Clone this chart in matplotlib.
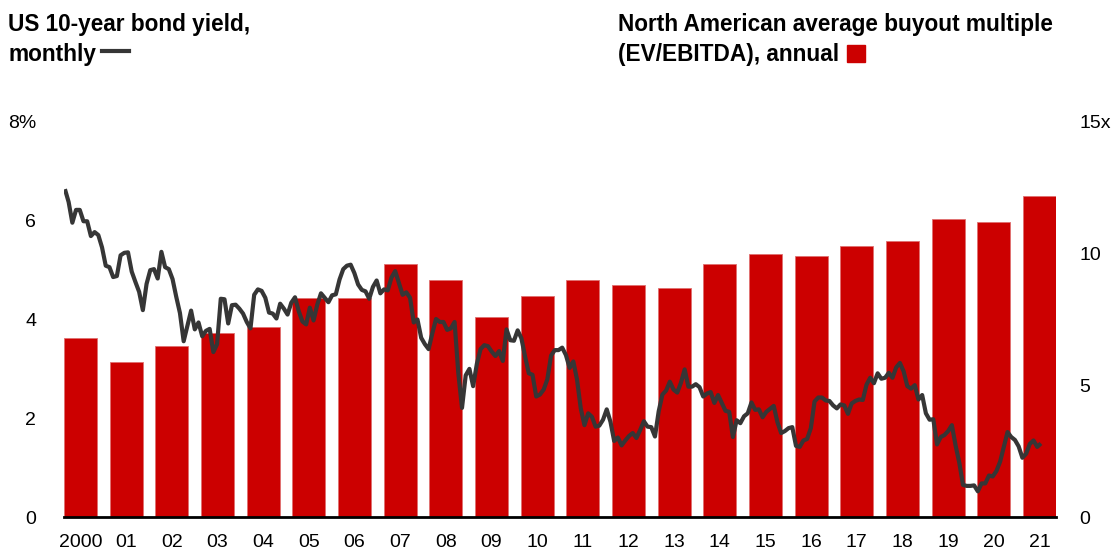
import matplotlib.pyplot as plt
import numpy as np
from matplotlib.lines import Line2D
from matplotlib.patches import Rectangle

plt.rcParams['font.family'] = ['Liberation Sans', 'DejaVu Sans']

# ---------------- DATA ----------------
years = list(range(2000, 2022))
year_labels = ["2000"] + [f"{y % 100:02d}" for y in years[1:]]

# North American average buyout multiple (EV/EBITDA), annual
buyout_multiple = [6.8, 5.9, 6.5, 7.0, 7.2, 8.3, 8.3, 9.6, 9.0, 7.6, 8.4,
                   9.0, 8.8, 8.7, 9.6, 10.0, 9.9, 10.3, 10.5, 11.3, 11.2, 12.2]

# US 10-year bond yield, monthly (month end), Jan 2000 - Dec 2021
bond_yield = [
    6.64, 6.38, 5.96, 6.22, 6.22, 5.99, 5.99, 5.69, 5.77, 5.71, 5.46, 5.09,  # 2000
    5.06, 4.86, 4.88, 5.30, 5.35, 5.36, 4.97, 4.76, 4.56, 4.19, 4.72, 5.00,  # 2001
    5.02, 4.83, 5.37, 5.06, 5.02, 4.82, 4.46, 4.13, 3.56, 3.87, 4.18, 3.80,  # 2002
    3.94, 3.66, 3.77, 3.81, 3.34, 3.50, 4.42, 4.41, 3.92, 4.29, 4.30, 4.22,  # 2003
    4.12, 3.95, 3.82, 4.50, 4.61, 4.58, 4.44, 4.14, 4.12, 4.02, 4.32, 4.22,  # 2004
    4.10, 4.34, 4.45, 4.17, 3.96, 3.90, 4.24, 3.98, 4.30, 4.53, 4.44, 4.35,  # 2005
    4.49, 4.51, 4.81, 5.02, 5.09, 5.11, 4.94, 4.71, 4.60, 4.57, 4.42, 4.66,  # 2006
    4.79, 4.53, 4.61, 4.59, 4.85, 4.98, 4.74, 4.50, 4.55, 4.44, 3.94, 4.00,  # 2007
    3.63, 3.50, 3.40, 3.72, 4.01, 3.95, 3.95, 3.79, 3.82, 3.95, 2.92, 2.21,  # 2008
    2.87, 3.00, 2.65, 3.10, 3.40, 3.48, 3.46, 3.35, 3.26, 3.36, 3.16, 3.80,  # 2009
    3.58, 3.57, 3.78, 3.62, 3.25, 2.91, 2.88, 2.44, 2.48, 2.58, 2.79, 3.27,  # 2010
    3.38, 3.38, 3.43, 3.28, 3.02, 3.15, 2.78, 2.20, 1.86, 2.10, 2.03, 1.83,  # 2011
    1.85, 1.97, 2.18, 1.93, 1.54, 1.61, 1.45, 1.55, 1.64, 1.70, 1.60, 1.76,  # 2012
    1.94, 1.83, 1.82, 1.63, 2.14, 2.48, 2.56, 2.74, 2.58, 2.52, 2.72, 2.99,  # 2013
    2.64, 2.64, 2.69, 2.63, 2.44, 2.50, 2.53, 2.31, 2.47, 2.31, 2.15, 2.13,  # 2014
    1.62, 1.96, 1.90, 2.04, 2.10, 2.32, 2.17, 2.18, 2.02, 2.13, 2.19, 2.25,  # 2015
    1.92, 1.70, 1.74, 1.80, 1.82, 1.44, 1.42, 1.55, 1.58, 1.80, 2.34, 2.42,  # 2016
    2.42, 2.36, 2.35, 2.26, 2.20, 2.28, 2.26, 2.09, 2.30, 2.35, 2.38, 2.37,  # 2017
    2.68, 2.82, 2.71, 2.91, 2.80, 2.82, 2.92, 2.82, 3.03, 3.12, 2.95, 2.65,  # 2018
    2.60, 2.67, 2.38, 2.47, 2.10, 1.97, 1.98, 1.47, 1.62, 1.66, 1.74, 1.86,  # 2019
    1.45, 1.10, 0.65, 0.63, 0.63, 0.64, 0.52, 0.68, 0.68, 0.84, 0.82, 0.93,  # 2020
    1.12, 1.42, 1.72, 1.62, 1.56, 1.43, 1.20, 1.28, 1.48, 1.55, 1.42, 1.49,  # 2021
]

left_ticks = [0, 2, 4, 6, 8]
left_tick_labels = ["0", "2", "4", "6", "8%"]
right_ticks = [0, 5, 10, 15]
right_tick_labels = ["0", "5", "10", "15x"]

RED = "#CC0000"
GREY = "#363636"

# ---------------- FIGURE ----------------
fig = plt.figure(figsize=(11.16, 5.56), dpi=100)
W, H = 1116, 556
ax = fig.add_axes([64 / W, 39 / H, 992 / W, 395 / H])   # left axis: yield
ax2 = ax.twinx()                                          # right axis: multiple

x = np.arange(len(years))
ax2.bar(x, buyout_multiple, width=0.72, color=RED, edgecolor="#E07070",
        linewidth=0.6, zorder=1)

# monthly line spread across the bars
line_x = np.linspace(-0.34, 21.03, len(bond_yield))
ax.plot(line_x, bond_yield, color=GREY, lw=3.0, solid_joinstyle='round',
        solid_capstyle='butt', zorder=3)

# bars behind, line on top
ax.set_zorder(ax2.get_zorder() + 1)
ax.patch.set_visible(False)

ax.set_xlim(-0.36, 21.36)
ax.set_ylim(0, 8)
ax2.set_ylim(0, 15)

ax.set_yticks(left_ticks)
ax.set_yticklabels(left_tick_labels)
ax2.set_yticks(right_ticks)
ax2.set_yticklabels(right_tick_labels)
ax.set_xticks(x)
ax.set_xticklabels(year_labels)

ax.tick_params(axis='y', length=0, pad=20, labelsize=14)
ax2.tick_params(axis='y', length=0, pad=17, labelsize=14)
ax.tick_params(axis='x', length=0, pad=12, labelsize=14)
for lab in ax2.get_yticklabels():
    lab.set_horizontalalignment('left')

for a in (ax, ax2):
    for s in ('left', 'right', 'top', 'bottom'):
        a.spines[s].set_visible(False)

ax.axhline(0, color="black", lw=2, zorder=5, clip_on=False)

# ---------------- HEADERS ----------------
t1 = fig.text(8 / W, 1 - 31.5 / H, "US 10-year bond yield,", fontsize=16.3,
              fontweight='bold', va='baseline', ha='left')
t2 = fig.text(8 / W, 1 - 60.5 / H, "monthly", fontsize=16.3,
              fontweight='bold', va='baseline', ha='left')
t3 = fig.text(618 / W, 1 - 31.5 / H, "North American average buyout multiple",
              fontsize=16.3, fontweight='bold', va='baseline', ha='left')
t4 = fig.text(618 / W, 1 - 60.5 / H, "(EV/EBITDA), annual", fontsize=16.3,
              fontweight='bold', va='baseline', ha='left')

fig.canvas.draw()
r = fig.canvas.get_renderer()
b2 = t2.get_window_extent(r)
b4 = t4.get_window_extent(r)

# legend dash after "monthly"
lx0 = b2.x1 + 6
fig.add_artist(Line2D([lx0 / W, (lx0 + 27) / W], [1 - 51 / H, 1 - 51 / H],
                      color=GREY, lw=3.0, transform=fig.transFigure))
# legend square after "annual"
sx0 = b4.x1 + 8
fig.add_artist(Rectangle((sx0 / W, 1 - 61.5 / H), 18 / W, 16 / H,
                         color=RED, transform=fig.transFigure))

fig.savefig("out.png", dpi=100)
